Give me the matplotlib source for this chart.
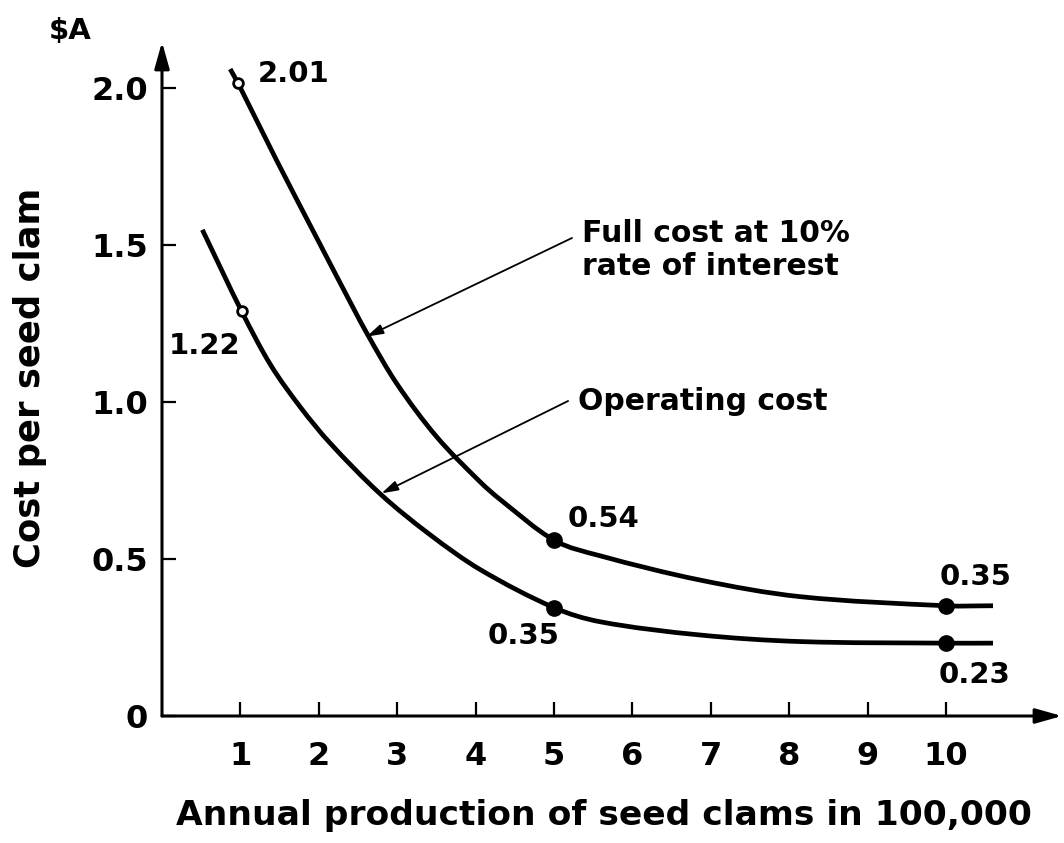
import matplotlib
matplotlib.use("Agg")
import matplotlib.pyplot as plt
from matplotlib.path import Path
from matplotlib.patches import PathPatch

plt.rcParams['font.family'] = ['DejaVu Sans']
plt.rcParams['font.weight'] = 'bold'

# full cost at 10% interest
full_x = [0.87, 1.0, 1.46, 2.02, 2.27, 2.61, 2.99, 3.50, 4.06, 4.31, 5.0, 5.59, 6.86, 8.14, 10.0, 10.6]
full_y = [2.06, 2.00, 1.77, 1.50, 1.38, 1.22, 1.06, 0.89, 0.745, 0.69, 0.56, 0.51, 0.433, 0.38, 0.351, 0.351]

# operating cost
oper_x = [0.515, 1.017, 1.38, 1.76, 2.14, 2.78, 3.42, 4.06, 5.0, 5.59, 6.86, 8.14, 10.0, 10.6]
oper_y = [1.548, 1.288, 1.12, 0.985, 0.87, 0.708, 0.577, 0.466, 0.345, 0.30, 0.258, 0.237, 0.232, 0.232]

# marked points and their printed values
mark_x = [5, 10]
full_mark = [0.56, 0.351]
oper_mark = [0.345, 0.232]
open_x = [0.97, 1.02]
open_y = [2.015, 1.288]

point_labels = ['2.01', '1.22', '0.54', '0.35', '0.35', '0.23']
label_pos = [(1.22, 2.045), (0.08, 1.178), (5.17, 0.627), (4.15, 0.255), (9.92, 0.443), (9.90, 0.131)]

xticks = [1, 2, 3, 4, 5, 6, 7, 8, 9, 10]
yticks = [0, 0.5, 1.0, 1.5, 2.0]
ytick_labels = ['0', '0.5', '1.0', '1.5', '2.0']

xmax, ymax = 11.48, 2.146


def smooth_path(xs, ys):
    # cubic hermite pieces through the read points, drawn as bezier segments
    n = len(xs)
    slopes = []
    for i in range(n):
        a = max(i - 1, 0)
        b = min(i + 1, n - 1)
        slopes.append((ys[b] - ys[a]) / (xs[b] - xs[a]))
    verts = [(xs[0], ys[0])]
    codes = [Path.MOVETO]
    for i in range(n - 1):
        h = (xs[i + 1] - xs[i]) / 3
        verts += [(xs[i] + h, ys[i] + slopes[i] * h),
                  (xs[i + 1] - h, ys[i + 1] - slopes[i + 1] * h),
                  (xs[i + 1], ys[i + 1])]
        codes += [Path.CURVE4] * 3
    return Path(verts, codes)


fig = plt.figure(figsize=(10.64, 8.43), dpi=100)
ax = fig.add_axes([162 / 1064, 127 / 843, 900 / 1064, 674 / 843])
ax.set_xlim(0, xmax)
ax.set_ylim(0, ymax)
for s in ax.spines.values():
    s.set_visible(False)

# axes with arrow heads
arrow = dict(arrowstyle='-|>,head_length=1.6,head_width=0.45', color='black', lw=2.2,
             shrinkA=0, shrinkB=0)
ax.annotate('', xy=(xmax, 0), xytext=(0, 0), arrowprops=arrow, annotation_clip=False)
ax.annotate('', xy=(0, ymax), xytext=(0, 0), arrowprops=arrow, annotation_clip=False)

for xs, ys in [(full_x, full_y), (oper_x, oper_y)]:
    ax.add_patch(PathPatch(smooth_path(xs, ys), fill=False, color='black', lw=3.4,
                           capstyle='butt', clip_on=False))
ax.plot(mark_x, full_mark, 'o', color='black', ms=11, clip_on=False)
ax.plot(mark_x, oper_mark, 'o', color='black', ms=11, clip_on=False)
ax.plot(open_x, open_y, 'o', mfc='white', mec='black', mew=2, ms=7, clip_on=False)

for txt, (px, py) in zip(point_labels, label_pos):
    ax.text(px, py, txt, fontsize=21, ha='left', va='center')

ax.set_xticks(xticks)
ax.set_xticklabels([str(t) for t in xticks])
ax.set_yticks(yticks)
ax.set_yticklabels(ytick_labels)
ax.tick_params(axis='x', direction='in', length=10, width=1.6, pad=18, labelsize=23)
ax.tick_params(axis='y', direction='in', length=10, width=1.6, pad=10, labelsize=23)

# callouts
thin = dict(arrowstyle='-|>,head_length=1.0,head_width=0.3', color='black', lw=1.3,
            shrinkA=0, shrinkB=0)
ax.annotate('', xy=(2.61, 1.208), xytext=(5.23, 1.522), arrowprops=thin)
ax.annotate('', xy=(2.80, 0.709), xytext=(5.18, 1.003), arrowprops=thin)
ax.text(5.36, 1.484, 'Full cost at 10%\nrate of interest', fontsize=21.5,
        ha='left', va='center', linespacing=1.2)
ax.text(5.31, 1.0, 'Operating cost', fontsize=21.5, ha='left', va='center')

fig.text(604 / 1064, 1 - 815 / 843, 'Annual production of seed clams in 100,000',
         fontsize=24.8, ha='center', va='center')
fig.text(30 / 1064, 1 - 378 / 843, 'Cost per seed clam', fontsize=25.5,
         ha='center', va='center', rotation=90)
fig.text(70 / 1064, 1 - 31 / 843, '$A', fontsize=21, ha='center', va='center')

fig.savefig('out.png', dpi=100)
